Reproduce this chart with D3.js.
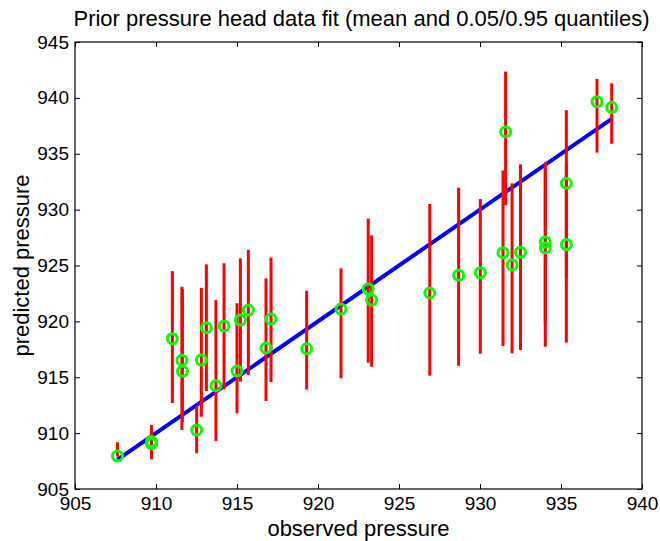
<!DOCTYPE html>
<html>
<head>
<meta charset="utf-8">
<script src="https://cdn.jsdelivr.net/npm/d3@7"></script>
<style>
body{margin:0;background:#fff;}
text{font-family:"Liberation Sans",Arial,Helvetica,sans-serif;fill:#000;}
</style>
</head>
<body>
<div id="content"></div>
<script>
// data
var observed = [907.62,909.72,909.72,911.01,911.60,911.63,912.51,912.80,913.11,913.70,914.20,915.00,915.21,915.70,916.79,917.10,919.30,921.42,923.10,923.31,926.90,928.68,930.02,931.42,931.58,931.98,932.50,934.03,934.03,935.33,935.33,937.22,938.13];
var predMean = [907.95,909.05,909.25,918.45,916.52,915.53,910.28,916.54,919.43,914.25,919.59,915.56,920.12,921.02,917.62,920.21,917.55,921.10,922.90,921.91,922.54,924.12,924.36,926.15,936.97,925.05,926.18,927.10,926.57,932.36,926.87,939.66,939.15];
var predLo = [907.90,907.66,908.00,912.70,910.28,911.00,908.20,911.47,913.77,909.30,913.92,911.77,914.60,915.20,912.87,914.57,913.90,914.90,916.30,915.94,915.14,916.03,917.10,917.80,930.40,917.14,917.44,917.73,919.80,918.10,923.85,935.10,935.90];
var predHi = [909.18,910.73,910.50,924.50,923.10,922.90,912.45,923.00,925.10,921.90,925.20,921.62,925.64,926.40,923.85,925.70,922.74,924.75,929.20,927.70,930.50,931.96,930.95,933.50,942.35,932.35,934.05,934.23,933.60,938.90,934.00,941.70,941.30];
var xTicks = [905,910,915,920,925,930,935,940];
var yTicks = [905,910,915,920,925,930,935,940,945];
var fitLine = [907.62,938.13];

var width=660, height=541;
var margin={'left':75,'top':42,'right':18,'bottom':52};

var svg=d3.select("#content").append("svg")
	.attr("width",width)
	.attr("height",height);

var x=d3.scaleLinear().domain([905,940]).range([margin.left,width-margin.right]);
var y=d3.scaleLinear().domain([905,945]).range([height-margin.bottom,margin.top]);

// fit line (y = x)
svg.append("line")
	.attr("x1",x(fitLine[0])).attr("y1",y(fitLine[0]))
	.attr("x2",x(fitLine[1])).attr("y2",y(fitLine[1]))
	.attr("stroke","#0000ff")
	.attr("stroke-width",4);

// quantile bars
svg.selectAll(".bar")
	.data(observed)
	.enter()
	.append("line")
	.attr("class","bar")
	.attr("x1",function(d){return x(d);})
	.attr("x2",function(d){return x(d);})
	.attr("y1",function(d,i){return y(predLo[i]);})
	.attr("y2",function(d,i){return y(predHi[i]);})
	.attr("stroke","#ff0000")
	.attr("stroke-width",3);

// means
svg.selectAll(".pt")
	.data(observed)
	.enter()
	.append("circle")
	.attr("class","pt")
	.attr("cx",function(d){return x(d);})
	.attr("cy",function(d,i){return y(predMean[i]);})
	.attr("r",5)
	.attr("fill","none")
	.attr("stroke","#00ff00")
	.attr("stroke-width",3);

// axes, ticks pointing inward, box all round
var tickLen=5;
svg.append("g")
	.attr("transform","translate(0,"+(height-margin.bottom)+")")
	.call(d3.axisBottom(x).tickValues(xTicks).tickSize(-tickLen).tickPadding(8).tickFormat(d3.format("d")));
svg.append("g")
	.attr("transform","translate(0,"+margin.top+")")
	.call(d3.axisTop(x).tickValues(xTicks).tickSize(-tickLen).tickFormat(""));
svg.append("g")
	.attr("transform","translate("+margin.left+",0)")
	.call(d3.axisLeft(y).tickValues(yTicks).tickSize(-tickLen).tickPadding(6).tickFormat(d3.format("d")));
svg.append("g")
	.attr("transform","translate("+(width-margin.right)+",0)")
	.call(d3.axisRight(y).tickValues(yTicks).tickSize(-tickLen).tickFormat(""));

svg.selectAll(".domain").remove();
svg.selectAll(".tick line").attr("stroke","#000");
svg.selectAll(".tick text").style("font-size","19px").attr("fill","#000");

svg.append("rect")
	.attr("x",margin.left).attr("y",margin.top)
	.attr("width",width-margin.left-margin.right)
	.attr("height",height-margin.top-margin.bottom)
	.attr("fill","none")
	.attr("stroke","#000")
	.attr("stroke-width",1.2);

// labels
svg.append("text")
	.attr("x",(margin.left+width-margin.right)/2+3)
	.attr("y",26)
	.attr("text-anchor","middle")
	.style("font-size","22px")
	.text("Prior pressure head data fit (mean and 0.05/0.95 quantiles)");
svg.append("text")
	.attr("x",(margin.left+width-margin.right)/2)
	.attr("y",536)
	.attr("text-anchor","middle")
	.style("font-size","22px")
	.text("observed pressure");
svg.append("text")
	.attr("transform","translate(29,"+((margin.top+height-margin.bottom)/2)+") rotate(-90)")
	.attr("text-anchor","middle")
	.style("font-size","22px")
	.text("predicted pressure");
</script>
</body>
</html>
